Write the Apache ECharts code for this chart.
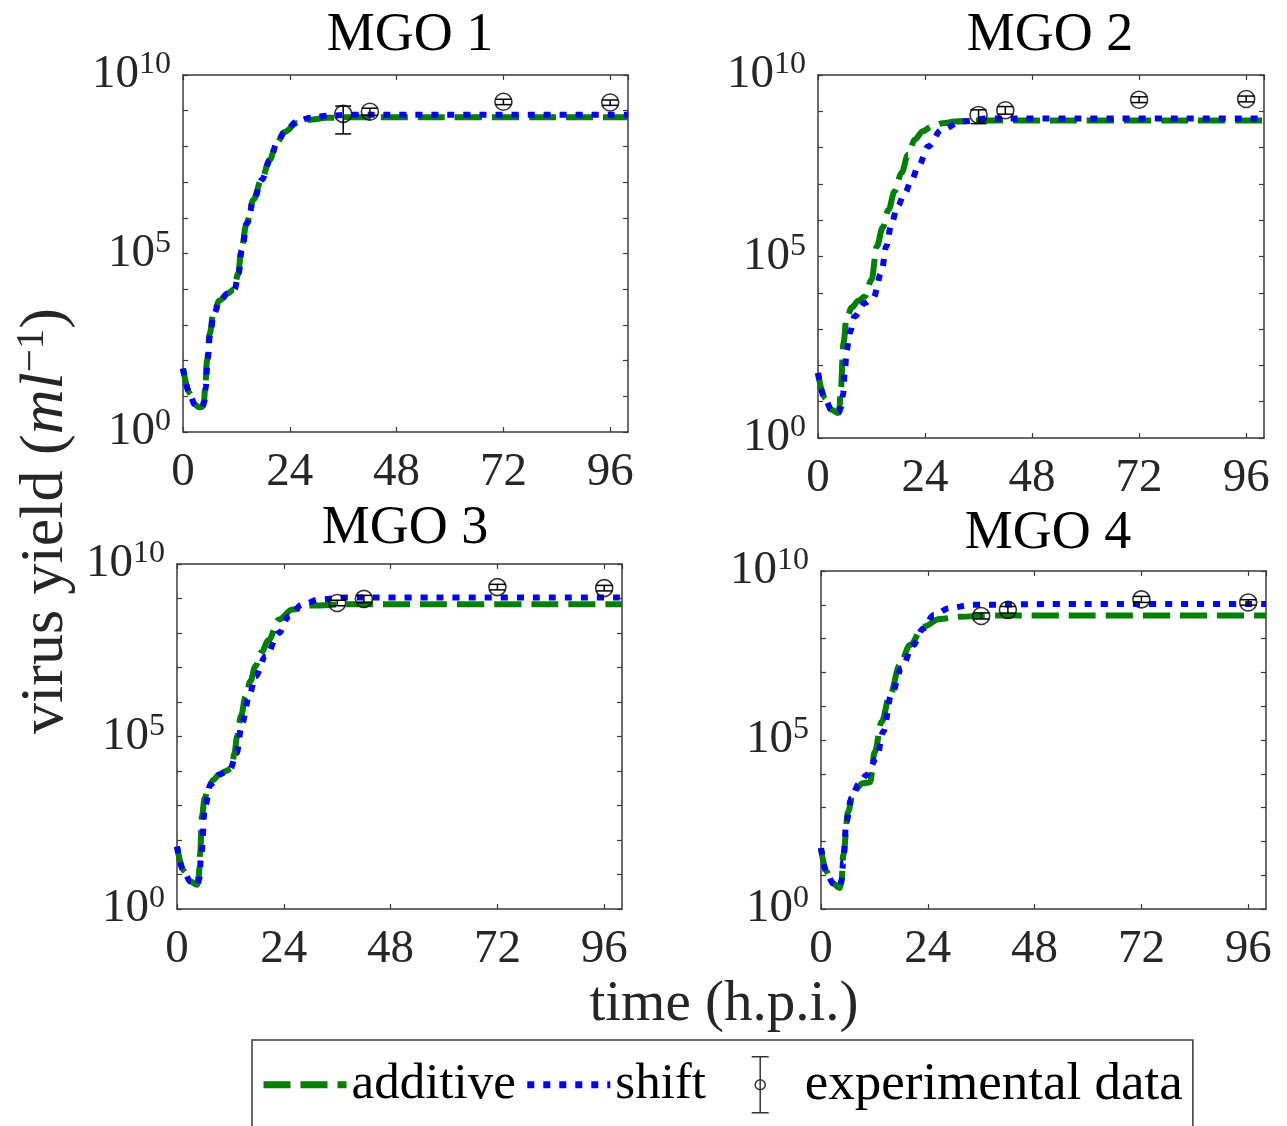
<!DOCTYPE html>
<html>
<head>
<meta charset="utf-8">
<script src="https://cdn.jsdelivr.net/npm/echarts@6/dist/echarts.min.js"></script>
<style>
  html, body { margin: 0; padding: 0; background: #fff; }
  #chart { width: 1287px; height: 1126px; }
</style>
</head>
<body>
<div id="chart"></div>
<script>
// ---- Data: time in h.p.i., yields stored as log10(virus yield per ml) ----
const panelTitles = ['MGO 1', 'MGO 2', 'MGO 3', 'MGO 4'];
const xTickValues = [0, 24, 48, 72, 96];
const yLabelExponents = [0, 5, 10];

const mgo1AdditiveTime = [0, 1.5, 2.6, 3.6, 4.3, 4.7, 5.0, 5.4, 6.0, 6.8, 8.2, 10.0, 11.5, 12.4, 13.1, 14.3, 15.8, 17.6, 19.5, 21.0, 22.9, 25.5, 28.5, 32.3, 38, 50, 100];
const mgo1AdditiveLog  = [1.78, 1.08, 0.78, 0.69, 0.70, 0.85, 1.25, 2.0, 2.75, 3.3, 3.68, 3.88, 4.0, 4.44, 5.1, 5.85, 6.5, 7.06, 7.62, 8.09, 8.41, 8.65, 8.75, 8.8, 8.82, 8.82, 8.82];
const mgo1ShiftTime    = [0, 1.5, 2.6, 3.6, 4.4, 4.8, 5.1, 5.5, 6.1, 6.9, 8.3, 10.1, 11.6, 12.5, 13.2, 14.4, 15.9, 17.7, 19.6, 21.1, 23.0, 25.6, 28.6, 32.4, 38, 50, 100];
const mgo1ShiftLog     = [1.78, 1.08, 0.78, 0.69, 0.70, 0.85, 1.25, 2.0, 2.75, 3.3, 3.68, 3.88, 4.0, 4.44, 5.1, 5.85, 6.5, 7.06, 7.62, 8.1, 8.44, 8.7, 8.8, 8.86, 8.89, 8.89, 8.89];

const mgo2AdditiveTime = [0, 1.5, 3.0, 4.5, 4.8, 5.1, 5.7, 6.4, 7.6, 9.0, 10.5, 12.0, 13.2, 14.5, 15.8, 17.2, 18.7, 20.2, 21.7, 23.5, 25.5, 28.0, 30.7, 36, 50, 100];
const mgo2AdditiveLog  = [1.79, 1.1, 0.78, 0.69, 0.85, 1.3, 2.6, 3.3, 3.6, 3.78, 3.9, 4.36, 5.28, 5.8, 6.29, 6.8, 7.3, 7.8, 8.22, 8.45, 8.58, 8.67, 8.72, 8.75, 8.75, 8.75];
const mgo2ShiftTime    = [0, 1.5, 3.0, 4.6, 5.2, 5.6, 6.0, 6.4, 7.1, 8.2, 10.5, 12.4, 14.2, 15.3, 16.5, 17.8, 19.5, 21.0, 22.5, 24.7, 27.7, 32.2, 38, 50, 100];
const mgo2ShiftLog     = [1.79, 1.1, 0.78, 0.69, 0.85, 1.2, 1.8, 2.4, 2.89, 3.35, 3.72, 3.86, 4.55, 5.28, 5.92, 6.38, 6.75, 7.12, 7.48, 8.03, 8.49, 8.72, 8.8, 8.8, 8.8];

const mgo3AdditiveTime = [0, 1.5, 3.0, 4.5, 4.9, 5.2, 5.6, 6.2, 7.1, 8.2, 9.4, 11.0, 12.3, 12.9, 13.5, 14.4, 15.4, 16.5, 17.6, 19.0, 20.6, 22.9, 25.9, 30.4, 38, 50, 100];
const mgo3AdditiveLog  = [1.81, 1.1, 0.8, 0.7, 0.95, 1.6, 2.68, 3.2, 3.55, 3.75, 3.89, 4.0, 4.09, 4.5, 5.0, 5.6, 6.16, 6.6, 7.03, 7.45, 7.8, 8.39, 8.68, 8.8, 8.83, 8.83, 8.83];
const mgo3ShiftTime    = [0, 1.5, 3.0, 4.6, 5.0, 5.4, 6.3, 7.5, 9.5, 11.9, 13.4, 14.6, 16.4, 17.6, 19.9, 22.9, 25.1, 28.1, 31.9, 38, 50, 100];
const mgo3ShiftLog     = [1.81, 1.1, 0.8, 0.7, 0.85, 1.5, 2.97, 3.6, 3.9, 4.04, 4.52, 5.39, 6.26, 6.74, 7.32, 8.0, 8.48, 8.82, 8.97, 9.03, 9.03, 9.03];

const mgo4AdditiveTime = [0, 1.2, 2.7, 4.2, 4.6, 5.0, 6.1, 7.2, 9.45, 11.0, 12.1, 13.6, 15.5, 17.7, 20.0, 23.0, 26.7, 31.2, 38, 50, 100];
const mgo4AdditiveLog  = [1.8, 1.1, 0.76, 0.62, 0.8, 1.6, 2.88, 3.47, 3.72, 3.75, 4.65, 5.54, 6.33, 7.22, 7.81, 8.35, 8.58, 8.65, 8.68, 8.68, 8.68];
const mgo4ShiftTime    = [0, 1.2, 2.7, 4.2, 4.6, 5.0, 5.7, 6.8, 8.5, 10.2, 12.5, 14.0, 15.8, 18.1, 20.7, 23.0, 25.3, 29.0, 34, 50, 100];
const mgo4ShiftLog     = [1.8, 1.1, 0.76, 0.66, 0.85, 1.4, 2.58, 3.27, 3.7, 3.96, 4.46, 5.25, 6.33, 7.12, 7.81, 8.3, 8.7, 8.91, 9.0, 9.02, 9.02];

// experimental measurements (mean and error bar ends, log10)
const expTime      = [36, 42, 72, 96];
const mgo1ExpLog   = [8.91, 8.97, 9.25, 9.23];
const mgo1ExpLow   = [8.35, 8.87, 9.17, 9.15];
const mgo1ExpHigh  = [9.13, 9.07, 9.32, 9.30];
const mgo2ExpLog   = [8.90, 9.03, 9.32, 9.34];
const mgo2ExpLow   = [8.66, 8.92, 9.24, 9.26];
const mgo2ExpHigh  = [9.04, 9.13, 9.40, 9.42];
const mgo3ExpLog   = [8.87, 8.99, 9.33, 9.30];
const mgo3ExpLow   = [8.79, 8.88, 9.25, 9.22];
const mgo3ExpHigh  = [8.95, 9.09, 9.41, 9.38];
const mgo4ExpLog   = [8.67, 8.85, 9.16, 9.07];
const mgo4ExpLow   = [8.58, 8.75, 9.07, 8.99];
const mgo4ExpHigh  = [8.76, 8.95, 9.25, 9.15];

// ---- Layout and style ----
const FONT = '"Liberation Serif", "Times New Roman", serif';
const INK = '#262626';
const FRAME = '#3a3a3a';
const GREEN = '#008000';
const BLUE = '#0000ff';
const CLEAR = 'rgba(0,0,0,0)';

const panels = [
  { grid: { left: 183, top: 75, width: 445, height: 357 }, titleX: 405, titleY: 4,
    add: [mgo1AdditiveTime, mgo1AdditiveLog], shift: [mgo1ShiftTime, mgo1ShiftLog],
    exp: [mgo1ExpLog, mgo1ExpLow, mgo1ExpHigh] },
  { grid: { left: 818, top: 75, width: 446, height: 363 }, titleX: 1045, titleY: 4,
    add: [mgo2AdditiveTime, mgo2AdditiveLog], shift: [mgo2ShiftTime, mgo2ShiftLog],
    exp: [mgo2ExpLog, mgo2ExpLow, mgo2ExpHigh] },
  { grid: { left: 177, top: 564, width: 445, height: 345 }, titleX: 400, titleY: 497,
    add: [mgo3AdditiveTime, mgo3AdditiveLog], shift: [mgo3ShiftTime, mgo3ShiftLog],
    exp: [mgo3ExpLog, mgo3ExpLow, mgo3ExpHigh] },
  { grid: { left: 821, top: 571, width: 445, height: 338 }, titleX: 1043, titleY: 502,
    add: [mgo4AdditiveTime, mgo4AdditiveLog], shift: [mgo4ShiftTime, mgo4ShiftLog],
    exp: [mgo4ExpLog, mgo4ExpLow, mgo4ExpHigh] }
];

const zip = (xs, ys) => xs.map((x, i) => [x, ys[i]]);

const tickStyle = { show: true, inside: true, length: 5, lineStyle: { color: FRAME, width: 1.2 } };
const axisLineStyle = { show: true, onZero: false, lineStyle: { color: FRAME, width: 1.5 } };

const grids = [], xAxes = [], yAxes = [], titles = [], series = [];

function yLabel(v) {
  return yLabelExponents.indexOf(v) >= 0 ? '{b|10}{s|' + v + '}' : '';
}

panels.forEach((p, i) => {
  grids.push(Object.assign({ show: false, outerBoundsMode: 'none', containLabel: false }, p.grid));
  titles.push({
    text: panelTitles[i], left: p.titleX, top: p.titleY, textAlign: 'center',
    textStyle: { fontFamily: FONT, fontSize: 54, fontWeight: 'normal', color: '#000' }
  });
  // bottom / left axes with labels
  xAxes.push({
    type: 'value', gridIndex: i, min: 0, max: 100, interval: 24, position: 'bottom',
    axisLine: axisLineStyle, axisTick: tickStyle, splitLine: { show: false },
    axisLabel: { showMaxLabel: false, margin: 17, fontFamily: FONT, fontSize: 47, color: INK }
  });
  yAxes.push({
    type: 'value', gridIndex: i, min: 0, max: 10, interval: 1, position: 'left',
    axisLine: axisLineStyle, axisTick: tickStyle, splitLine: { show: false },
    axisLabel: {
      margin: 12, formatter: yLabel, color: INK,
      rich: {
        b: { fontFamily: FONT, fontSize: 47, color: INK, lineHeight: 52 },
        s: { fontFamily: FONT, fontSize: 32, color: INK, verticalAlign: 'top' }
      }
    }
  });
});

// mirrored ticks on top and right edges of every box
panels.forEach((p, i) => {
  xAxes.push({
    type: 'value', gridIndex: i, min: 0, max: 100, interval: 24, position: 'top',
    axisLine: axisLineStyle, axisTick: tickStyle, axisLabel: { show: false }, splitLine: { show: false }
  });
  yAxes.push({
    type: 'value', gridIndex: i, min: 0, max: 10, interval: 1, position: 'right',
    axisLine: axisLineStyle, axisTick: tickStyle, axisLabel: { show: false }, splitLine: { show: false }
  });
});

panels.forEach((p, i) => {
  series.push({
    name: 'additive', type: 'line', xAxisIndex: i, yAxisIndex: i,
    data: zip(p.add[0], p.add[1]), symbol: 'none', smooth: 0.35, smoothMonotone: 'x',
    lineStyle: { color: GREEN, width: 6, type: [27, 10], cap: 'butt' },
    itemStyle: { color: GREEN }, z: 3, silent: true
  });
  series.push({
    name: 'shift', type: 'line', xAxisIndex: i, yAxisIndex: i,
    data: zip(p.shift[0], p.shift[1]), symbol: 'none', smooth: 0.35, smoothMonotone: 'x',
    lineStyle: { color: BLUE, width: 6, type: [7, 9], cap: 'butt' },
    itemStyle: { color: BLUE }, z: 4, silent: true
  });
});

panels.forEach((p, i) => {
  series.push({
    name: 'experimental data', type: 'scatter', xAxisIndex: i, yAxisIndex: i,
    data: zip(expTime, p.exp[0]), symbol: 'circle', symbolSize: 17,
    itemStyle: { color: CLEAR, borderColor: '#000', borderWidth: 1.6 },
    z: 6, silent: true
  });
});

panels.forEach((p, i) => {
  series.push({
    name: 'experimental data', type: 'custom', xAxisIndex: i, yAxisIndex: i,
    data: expTime.map((t, k) => [t, p.exp[1][k], p.exp[2][k]]),
    encode: { x: 0, y: [1, 2] }, z: 5, silent: true,
    renderItem: function (params, api) {
      const t = api.value(0);
      const lo = api.coord([t, api.value(1)]);
      const hi = api.coord([t, api.value(2)]);
      const hw = 8;
      const style = { stroke: '#000', lineWidth: 1.5, fill: null };
      return {
        type: 'group', children: [
          { type: 'line', shape: { x1: lo[0], y1: lo[1], x2: hi[0], y2: hi[1] }, style: style },
          { type: 'line', shape: { x1: lo[0] - hw, y1: lo[1], x2: lo[0] + hw, y2: lo[1] }, style: style },
          { type: 'line', shape: { x1: hi[0] - hw, y1: hi[1], x2: hi[0] + hw, y2: hi[1] }, style: style }
        ]
      };
    }
  });
});

// error-bar glyph for the legend, laid out in an 83 x 56 box
const errorBarIcon = 'path://M0,28M83,28M37,0L54,0M45.5,0L45.5,56M37,56L54,56' +
  'M50.5,28A5,5,0,1,1,40.5,28A5,5,0,1,1,50.5,28';

// legend keeps only the line sample for the curves
const lineOnlyItem = { color: CLEAR, borderColor: CLEAR, borderWidth: 0, opacity: 0 };

const option = {
  backgroundColor: '#fff',
  animation: false,
  title: titles,
  grid: grids,
  xAxis: xAxes,
  yAxis: yAxes,
  legend: {
    left: 252, top: 1040, orient: 'horizontal',
    padding: [16, 10, 40, 8],
    itemGap: 8, itemWidth: 83, itemHeight: 56,
    borderColor: FRAME, borderWidth: 1.5, backgroundColor: '#fff',
    selectedMode: false,
    textStyle: { fontFamily: FONT, fontSize: 51, color: '#000' },
    lineStyle: { width: 7, cap: 'butt' },
    data: [
      { name: 'additive', itemStyle: lineOnlyItem },
      { name: 'shift', itemStyle: lineOnlyItem },
      { name: 'experimental data', icon: errorBarIcon,
        textStyle: { fontSize: 53, padding: [0, 0, 0, 2] },
        itemStyle: { color: CLEAR, borderColor: '#000', borderWidth: 1.5 } }
    ]
  },
  graphic: [
    {
      type: 'text', x: 46, y: 521, rotation: Math.PI / 2, silent: true,
      style: {
        text: '{n|virus yield (}{i|ml}{s|−1}{n|)}',
        align: 'center', verticalAlign: 'middle',
        rich: {
          n: { fontFamily: FONT, fontSize: 62, fill: INK, lineHeight: 68 },
          i: { fontFamily: FONT, fontSize: 62, fontStyle: 'italic', fill: INK, lineHeight: 68 },
          s: { fontFamily: FONT, fontSize: 41, fill: INK, verticalAlign: 'top' }
        }
      }
    },
    {
      type: 'text', x: 724, y: 1005, silent: true,
      style: {
        text: 'time (h.p.i.)', align: 'center', verticalAlign: 'middle',
        fontFamily: FONT, fontSize: 57, fill: INK
      }
    }
  ],
  series: series
};

const chart = echarts.init(document.getElementById('chart'), null, { renderer: 'canvas' });
chart.setOption(option);
</script>
</body>
</html>
